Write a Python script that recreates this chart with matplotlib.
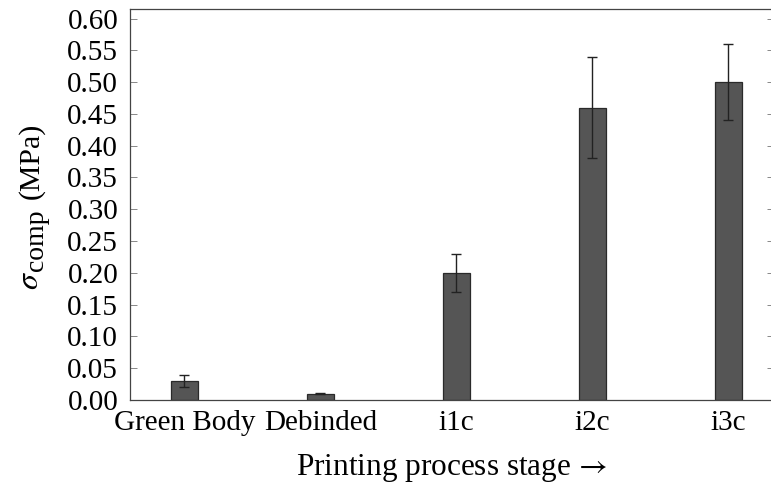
import matplotlib.pyplot as plt
import numpy as np

plt.rcParams['font.family'] = ['Liberation Serif', 'DejaVu Serif']
plt.rcParams['mathtext.fontset'] = 'stix'

# compressive strength per printing stage
stages = ['Green Body', 'Debinded', 'i1c', 'i2c', 'i3c']
sigma = [0.03, 0.01, 0.20, 0.46, 0.50]
sigma_err = [0.01, 0.001, 0.03, 0.08, 0.06]
yticks = np.arange(0, 0.61, 0.05)

W, H = 771, 488
fig = plt.figure(figsize=(W / 100, H / 100), dpi=100)
# right spine sits just past the image edge
ax = fig.add_axes([130 / W, 1 - 400 / H, 644 / W, 391 / H])

x = np.arange(len(stages))
ax.bar(x, sigma, width=0.2, color='#555555', edgecolor='#2a2a2a', linewidth=0.9,
       yerr=sigma_err, capsize=3.8,
       error_kw=dict(ecolor='#222222', elinewidth=1.0, capthick=1.0))

ax.set_xlim(-0.40, 4.335)
ax.set_ylim(0, 0.615)
ax.set_xticks(x)
ax.set_xticklabels(stages)
ax.set_yticks(yticks)
ax.set_yticklabels([f'{v:.2f}' for v in yticks])

ax.tick_params(axis='y', direction='in', length=5, width=0.7, color='#888888',
               left=True, right=True, labelsize=21, pad=8.5)
ax.tick_params(axis='x', length=0, labelsize=21, pad=7)

for s in ax.spines.values():
    s.set_color('#444444')
    s.set_linewidth(0.9)

ax.set_xlabel(r'Printing process stage $\!\rightarrow$', fontsize=22.5, labelpad=12)

# y label built from pieces so the subscript stays large
r = fig.canvas.get_renderer()
ypos = 290
pieces = [(r'$\sigma$', 23, 38), ('comp', 20, 43), ('(MPa)', 21.5, 38)]
for i, (txt, size, xb) in enumerate(pieces):
    t = fig.text(xb / W, 1 - ypos / H, txt, fontsize=size, rotation=90,
                 rotation_mode='anchor', ha='left', va='baseline')
    ypos -= t.get_window_extent(r).height
    if i == 1:
        ypos -= 10

fig.savefig('out.png', dpi=100)
